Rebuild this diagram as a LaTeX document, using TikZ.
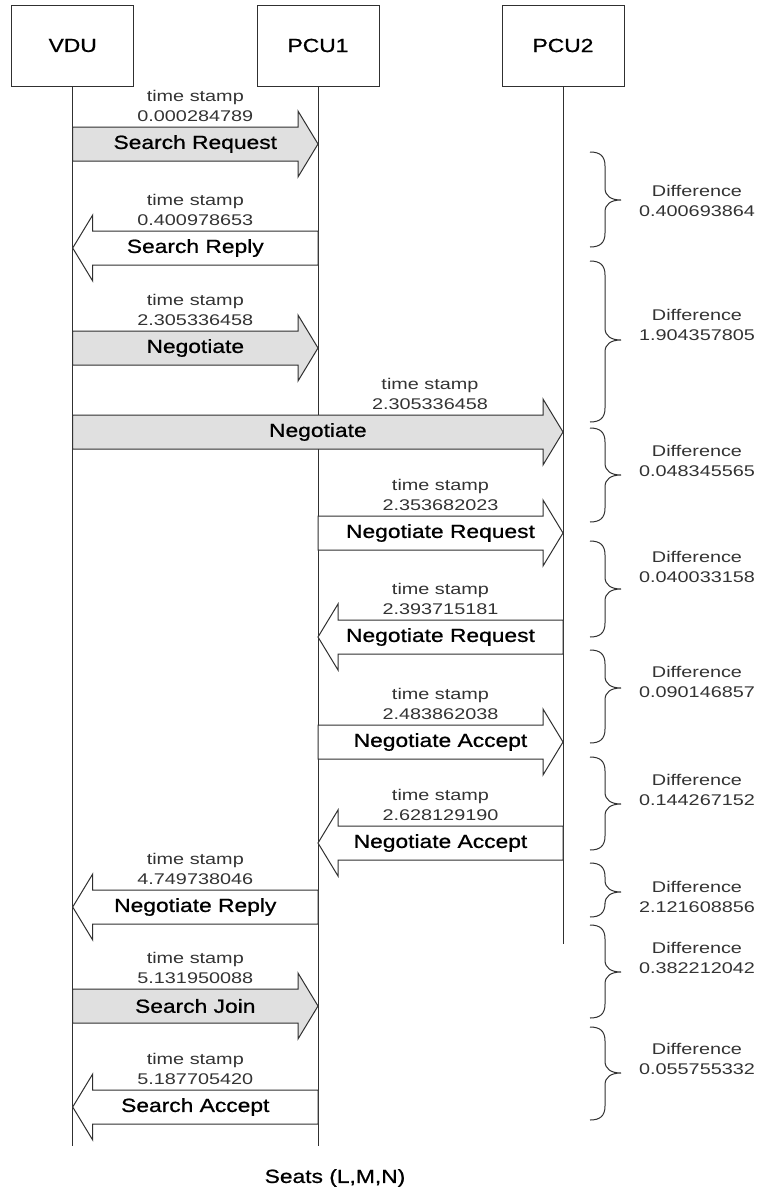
\documentclass[tikz,border=0pt]{standalone}
\usepackage{fontspec}
\setmainfont{Liberation Sans}[FakeStretch=1.2]
\newfontfamily\lblfont{Liberation Sans}[FakeStretch=1.2,FakeBold=0.8]
\newfontfamily\tsfont{Liberation Sans}[FakeStretch=1.28]
\definecolor{linec}{HTML}{303030}
\definecolor{msgfill}{HTML}{E0E0E0}
\tikzset{
  lane/.style={draw=linec, line width=1pt},
  box/.style={draw=linec, line width=1pt, minimum width=122pt, minimum height=81pt, inner sep=0pt, font=\lblfont\fontsize{19}{22}\selectfont},
  msg/.style={draw=linec, line width=1pt, line join=miter},
  lbl/.style={font=\lblfont\fontsize{19}{22}\selectfont, inner sep=0pt},
  ts/.style={font=\tsfont\fontsize{15.5}{20}\selectfont, align=center, text=black!80, inner sep=0pt},
  brc/.style={draw=linec, line width=1pt},
}
\newcommand{\msgR}[4]{%
  \filldraw[msg, fill=#4] (#1,#3) -- (#2-20,#3) -- (#2-20,#3-16) -- (#2,#3+17) -- (#2-20,#3+50) -- (#2-20,#3+34) -- (#1,#3+34) -- cycle;}
\newcommand{\msgL}[4]{%
  \filldraw[msg, fill=#4] (#2,#3) -- (#1+20,#3) -- (#1+20,#3-16) -- (#1,#3+17) -- (#1+20,#3+50) -- (#1+20,#3+34) -- (#2,#3+34) -- cycle;}
\newcommand{\diffbrace}[3]{%
  \draw[brc] (590,#1) .. controls (600,#1) and (605,#1+4) .. (605,#1+14) -- (605,#2-12)
    .. controls (605,#2-4) and (611,#2) .. (621,#2)
    .. controls (611,#2) and (605,#2+4) .. (605,#2+12) -- (605,#3-14)
    .. controls (605,#3-4) and (600,#3) .. (590,#3);}
\begin{document}
\begin{tikzpicture}[x=1pt,y=-1pt]
\useasboundingbox (0,0) rectangle (759,1189);
\fill[white] (0,0) rectangle (759,1189);
% participants
\node[box] (vdu) at (72.7,45.5) {VDU};
\node[box] (pcu1) at (318,45.5) {PCU1};
\node[box] (pcu2) at (563,45.5) {PCU2};
\coordinate (vduEnd) at (72.7,1146);
\coordinate (pcu1End) at (318,1146);
\coordinate (pcu2End) at (563,944);
\draw[lane] (vdu.south) -- (vduEnd);
\draw[lane] (pcu1.south) -- (pcu1End);
\draw[lane] (pcu2.south) -- (pcu2End);
% messages
\msgR{72.7}{318}{127}{msgfill}
\node[lbl] (m1) at (195.3,144) {Search Request};
\node[ts] (t1) at (195.3,106) {time stamp\\0.000284789};

\msgL{72.7}{318}{231}{white}
\node[lbl] (m2) at (195.3,248) {Search Reply};
\node[ts] (t2) at (195.3,210) {time stamp\\0.400978653};

\msgR{72.7}{318}{331}{msgfill}
\node[lbl] (m3) at (195.3,348) {Negotiate};
\node[ts] (t3) at (195.3,310) {time stamp\\2.305336458};

\msgR{72.7}{563}{415}{msgfill}
\node[lbl] (m4) at (317.9,432) {Negotiate};
\node[ts] (t4) at (430,394) {time stamp\\2.305336458};

\msgR{318}{563}{516}{white}
\node[lbl] (m5) at (440.5,533) {Negotiate Request};
\node[ts] (t5) at (440.5,495) {time stamp\\2.353682023};

\msgL{318}{563}{620}{white}
\node[lbl] (m6) at (440.5,637) {Negotiate Request};
\node[ts] (t6) at (440.5,599) {time stamp\\2.393715181};

\msgR{318}{563}{725}{white}
\node[lbl] (m7) at (440.5,742) {Negotiate Accept};
\node[ts] (t7) at (440.5,704) {time stamp\\2.483862038};

\msgL{318}{563}{826}{white}
\node[lbl] (m8) at (440.5,843) {Negotiate Accept};
\node[ts] (t8) at (440.5,805) {time stamp\\2.628129190};

\msgL{72.7}{318}{890}{white}
\node[lbl] (m9) at (195.3,907) {Negotiate Reply};
\node[ts] (t9) at (195.3,869) {time stamp\\4.749738046};

\msgR{72.7}{318}{989}{msgfill}
\node[lbl] (m10) at (195.3,1006) {Search Join};
\node[ts] (t10) at (195.3,968) {time stamp\\5.131950088};

\msgL{72.7}{318}{1090}{white}
\node[lbl] (m11) at (195.3,1107) {Search Accept};
\node[ts] (t11) at (195.3,1069) {time stamp\\5.187705420};

% differences
\diffbrace{152}{200}{247}
\node[ts] (d1) at (697,201) {Difference\\0.400693864};
\diffbrace{261}{340}{422}
\node[ts] (d2) at (697,325) {Difference\\1.904357805};
\diffbrace{428}{475}{522}
\node[ts] (d3) at (697,461) {Difference\\0.048345565};
\diffbrace{541}{589}{637}
\node[ts] (d4) at (697,567) {Difference\\0.040033158};
\diffbrace{650}{688}{743}
\node[ts] (d5) at (697,682) {Difference\\0.090146857};
\diffbrace{757}{804}{850}
\node[ts] (d6) at (697,790) {Difference\\0.144267152};
\diffbrace{863}{892}{917}
\node[ts] (d7) at (697,897) {Difference\\2.121608856};
\diffbrace{925}{972}{1018}
\node[ts] (d8) at (697,958) {Difference\\0.382212042};
\diffbrace{1027}{1073}{1120}
\node[ts] (d9) at (697,1059) {Difference\\0.055755332};

\node[lbl] (seats) at (335,1178) {Seats (L,M,N)};
\end{tikzpicture}
\end{document}
